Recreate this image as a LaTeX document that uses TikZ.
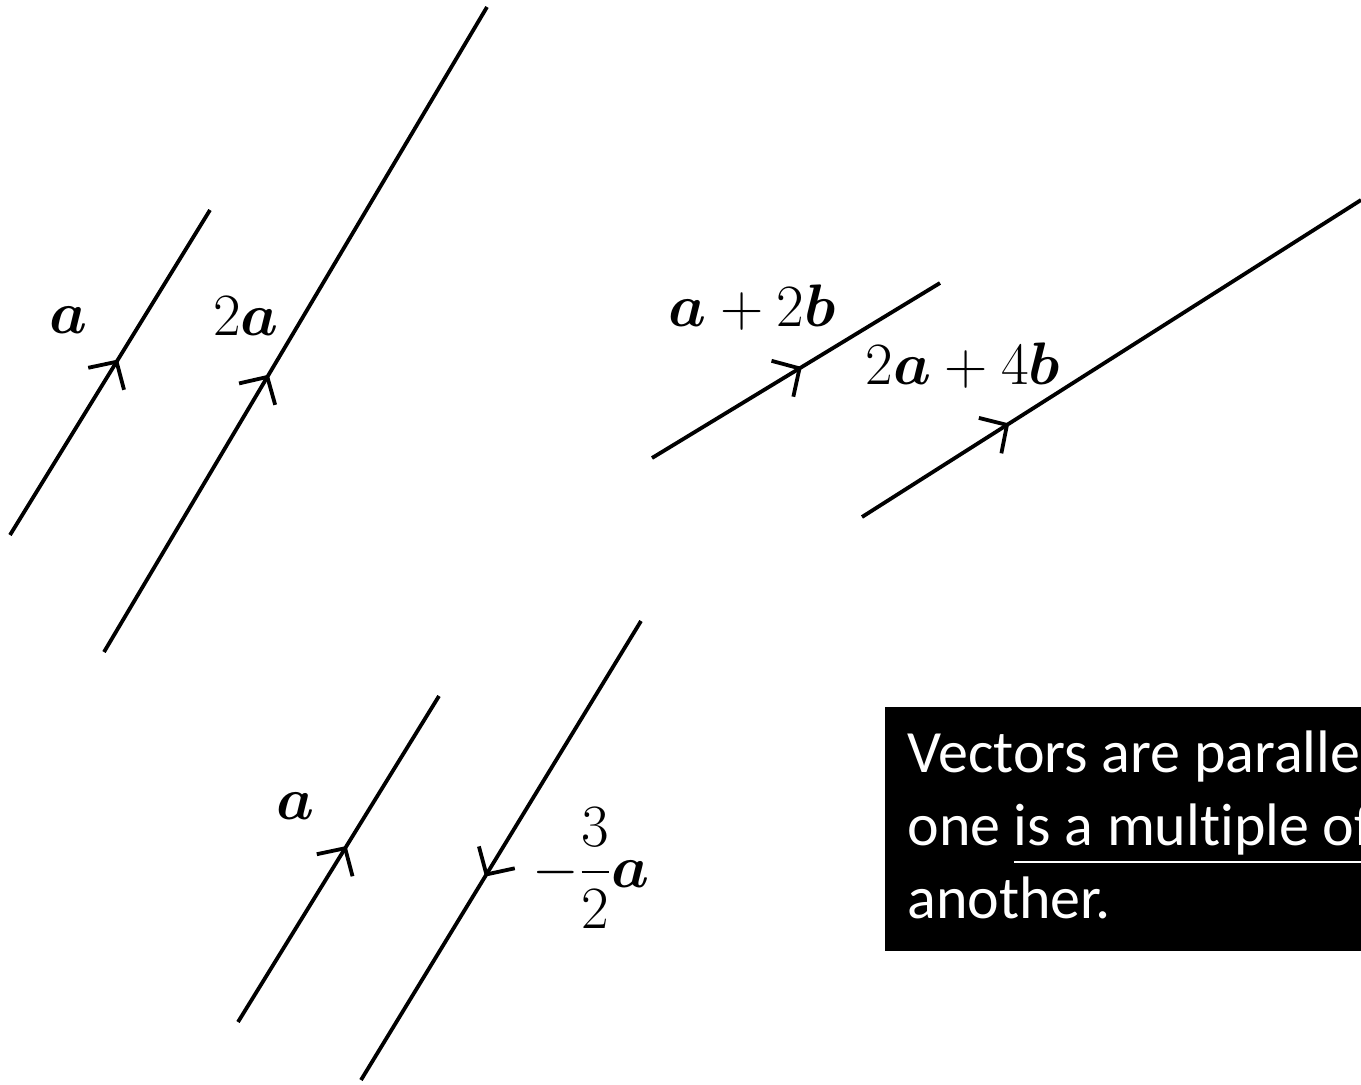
\RequirePackage{fix-cm}
\documentclass[tikz,border=0pt]{standalone}
\usepackage{amsmath,bm}
\usepackage{fontspec}
\newfontfamily\notefont[Ligatures=NoCommon]{Carlito}
\usetikzlibrary{arrows.meta,decorations.markings}

\begin{document}
\begin{tikzpicture}[x=0.5pt,y=-0.5pt,
  vec/.style={line width=1.9pt, postaction={decorate},
    decoration={markings, mark=at position #1 with {\arrow{Straight Barb[length=10pt,width=21pt]}}}},
  lbl/.style={font=\fontsize{30}{36}\selectfont, inner sep=0pt},
  notetext/.style={font=\notefont\fontsize{30}{36}\selectfont, text=white, inner sep=0pt, anchor=base west}]
\useasboundingbox (0,0) rectangle (1361,1084);
\clip (0,0) rectangle (1361,1084);

% Points
\coordinate (a1s) at (10,535);
\coordinate (a1e) at (210,210);
\coordinate (a2s) at (104,652);
\coordinate (a2e) at (487,7);
\coordinate (b1s) at (652,458);
\coordinate (b1e) at (940,283);
\coordinate (b2s) at (862,517);
\coordinate (b2e) at (1361,200);
\coordinate (c1s) at (238,1022);
\coordinate (c1e) at (439,696);
\coordinate (c2s) at (641,621);
\coordinate (c2e) at (361,1080);

% Vectors
\draw [vec=0.54] (a1s) -- (a1e);
\draw [vec=0.43] (a2s) -- (a2e);
\draw [vec=0.52] (b1s) -- (b1e);
\draw [vec=0.295] (b2s) -- (b2e);
\draw [vec=0.54] (c1s) -- (c1e);
\draw [vec=0.557] (c2s) -- (c2e); % points down

% Labels
\node (la1) [lbl] at (68,320) {$\bm{a}$};
\node (la2) [lbl] at (246,316) {$2\bm{a}$};
\node (lb1) [lbl] at (752,308) {$\bm{a}+2\bm{b}$};
\node (lb2) [lbl] at (963,366) {$2\bm{a}+4\bm{b}$};
\node (lc1) [lbl] at (295,806) {$\bm{a}$};
\node (lc2) [lbl] at (591,868) {$\displaystyle -\frac{3}{2}\bm{a}$};

% Note
\node (note) [fill=black, anchor=north west, minimum width=300pt, minimum height=122pt, inner sep=0pt] at (885,707) {};
\node (n1) [notetext] at (907,772) {Vectors are parallel if};
\node (n2) [notetext] at (907,845) {one \underline{is a multiple of}};
\node (n3) [notetext] at (907,918) {another.};

\end{tikzpicture}
\end{document}
